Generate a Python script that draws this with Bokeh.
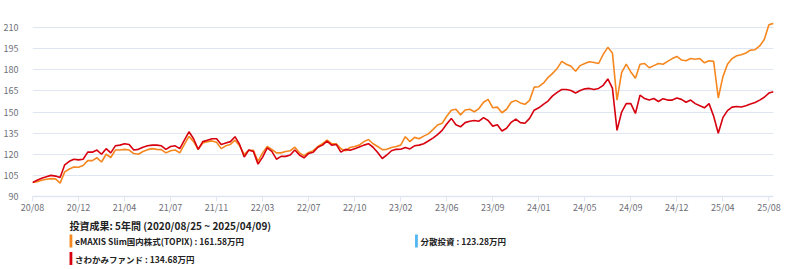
from bokeh.plotting import figure
from bokeh.layouts import column
from bokeh.models import Range1d, FixedTicker, ColumnDataSource
from bokeh.core.properties import value
from bokeh.embed import file_html
from bokeh.resources import INLINE

# ---------------- data ----------------
tick_labels = ["20/08", "20/12", "21/04", "21/07", "21/11", "22/03", "22/07", "22/10",
               "23/02", "23/06", "23/09", "24/01", "24/05", "24/09", "24/12", "25/04", "25/08"]
tick_step = 10  # samples between two axis labels

emaxis_topix = [
    100, 100.5, 101.5, 102.3, 102.7, 102.5, 99.5, 107.5, 109.5, 111,
    110.8, 112, 115.5, 115.5, 117.5, 114.5, 120, 117.7, 123, 123,
    123.5, 123, 120.5, 120, 122, 123.3, 124, 123.5, 123.3, 121,
    122.5, 123, 121, 127, 132.7, 129, 123.5, 128, 129, 129.5,
    128.5, 124, 126, 127, 130, 126, 120, 122.8, 122.8, 115,
    121, 125.5, 123.5, 121, 121, 122, 122.5, 125, 121, 119,
    121.3, 122.6, 125.5, 127.5, 130, 127.5, 127.5, 124, 122.5, 124.8,
    125.5, 126.5, 129, 130.5, 127.5, 125.5, 123.3, 123.5, 124.8, 125.5,
    126.5, 132.5, 129, 132, 131, 132.9, 134.5, 137.5, 140.8, 142,
    147, 151.3, 152, 148, 151.5, 152, 150.2, 152.5, 157, 159,
    153, 153.5, 149.5, 152, 157, 158.3, 156.5, 155.5, 158.3, 167.7,
    168, 170.5, 174.5, 177.5, 181, 186, 184, 182.5, 179, 183,
    184.5, 185.8, 185.2, 184.5, 191, 196, 192, 158.5, 178, 184,
    178.5, 174, 184, 184.5, 181.5, 183, 184.5, 184, 186, 188,
    189.5, 187, 186.5, 188, 187.5, 188, 185, 186.5, 186, 160,
    175, 184, 188, 190, 190.7, 192, 194, 194.3, 197, 201.5,
    212, 213,
]

sawakami = [
    100, 101.5, 103, 104, 105, 104.5, 103.5, 112.5, 115, 116.5,
    116, 116.5, 121.5, 121.5, 123, 120, 124, 121, 126, 126.5,
    127.5, 127, 123, 123.5, 125, 126, 126.5, 126.5, 126, 123.5,
    125.5, 126, 124, 130, 136, 131, 123.5, 129, 130, 131,
    131, 127, 128, 129, 132.5, 127, 118, 123, 122, 113,
    118, 124.6, 122, 116.5, 118.5, 118.5, 119.5, 123, 119.5, 117.5,
    120.6, 121.5, 125, 126.5, 129.4, 126.5, 127, 121.5, 123.5, 122.8,
    124, 125.2, 126.5, 127.5, 125, 121.3, 117, 119.5, 122.5, 123.5,
    123.6, 124.8, 123.8, 126, 126.5, 127.5, 129.4, 131.5, 134, 137,
    141.5, 145.5, 141, 139.5, 142.5, 143.5, 144, 143.5, 146, 144,
    140, 141, 136.5, 138.5, 142.7, 145, 142.5, 142, 145.5, 151.3,
    153, 155.5, 157.8, 161.5, 164, 166, 166, 165.3, 163.5, 165.3,
    166.5, 166.8, 166, 166.8, 169, 173.5, 167, 137, 150, 156,
    156, 149, 162, 159.6, 158.5, 159.6, 157.5, 159.5, 158.5, 158.5,
    160, 159, 157, 158.5, 156, 154.5, 153, 156, 147, 135,
    146, 151, 153.5, 154, 153.6, 154.5, 155.8, 156.8, 158.5, 160.5,
    163.5, 164.5,
]

y_ticks = [90, 105, 120, 135, 150, 165, 180, 195, 210, 225]

title_text = "投資成果: 5年間 (2020/08/25 ~ 2025/04/09)"
legend_names = ["eMAXIS Slim国内株式(TOPIX)", "分散投資", "さわかみファンド"]
legend_values = ["161.58万円", "123.28万円", "134.68万円"]

# ---------------- styling ----------------
ORANGE = "#F5871F"
RED = "#D7000F"
BLUE = "#52B6F0"
GRID = "#E0E6F1"
LABEL = "#6E7079"
FONT = "Noto Sans CJK JP"

idx = list(range(len(sawakami)))
src = ColumnDataSource(dict(x=idx, topix=emaxis_topix, sawakami=sawakami))

p = figure(width=800, height=216, output_backend="svg", toolbar_location=None,
           x_range=Range1d(0, len(idx) - 1), y_range=Range1d(y_ticks[0], y_ticks[-1]),
           min_border_left=32, min_border_right=27, min_border_top=6, min_border_bottom=16)
p.outline_line_color = None

p.line("x", "topix", source=src, color=ORANGE, line_width=1.6)
p.line("x", "sawakami", source=src, color=RED, line_width=1.6)

# x axis
xt = [i * tick_step for i in range(len(tick_labels))]
p.xaxis.ticker = FixedTicker(ticks=xt)
p.xaxis.major_label_overrides = {t: lab for t, lab in zip(xt, tick_labels)}
p.xaxis.axis_line_color = GRID
p.xaxis.axis_line_width = 1.5
p.xaxis.major_tick_line_color = GRID
p.xaxis.major_tick_out = 5
p.xaxis.major_tick_in = 0
p.xaxis.minor_tick_line_color = None
p.xaxis.major_label_text_color = LABEL
p.xaxis.major_label_text_font = FONT
p.xaxis.major_label_text_font_size = "9px"
p.xaxis.major_label_standoff = -1
p.xgrid.grid_line_color = None

# y axis
p.yaxis.ticker = FixedTicker(ticks=y_ticks)
p.yaxis.major_label_overrides = {y_ticks[-1]: ""}
p.yaxis.axis_line_color = None
p.yaxis.major_tick_line_color = None
p.yaxis.minor_tick_line_color = None
p.yaxis.major_label_text_color = LABEL
p.yaxis.major_label_text_font = FONT
p.yaxis.major_label_text_font_size = "9px"
p.yaxis.major_label_text_baseline = "bottom"
p.yaxis.major_label_standoff = 8
p.ygrid.grid_line_color = GRID
p.ygrid.grid_line_width = 1

# ---------------- summary panel below the chart ----------------
q = figure(width=800, height=53, output_backend="svg", toolbar_location=None,
           x_range=Range1d(0, 800), y_range=Range1d(53, 0),
           min_border=0, x_axis_type=None, y_axis_type=None)
q.outline_line_color = None
q.grid.grid_line_color = None

q.text(x=[40], y=[8.5], text=[title_text], text_font=value(FONT), text_font_size="10px",
       text_font_style="bold", text_color="#222222", text_baseline="middle")

entry_x = [40, 413, 40]
entry_y = [24.5, 24.5, 42]
entry_col = [ORANGE, BLUE, RED]
q.quad(left=entry_x, right=[e + 3 for e in entry_x],
       top=[e - 6.5 for e in entry_y], bottom=[e + 6.5 for e in entry_y],
       fill_color=entry_col, line_color=None)
q.text(x=[e + 6 for e in entry_x], y=entry_y,
       text=[f"{n} : {v}" for n, v in zip(legend_names, legend_values)],
       text_font=value(FONT), text_font_size="8.5px", text_font_style="bold",
       text_color="#222222", text_baseline="middle")

layout = column(p, q, spacing=0)
open("out.html", "w").write(file_html(layout, INLINE))
